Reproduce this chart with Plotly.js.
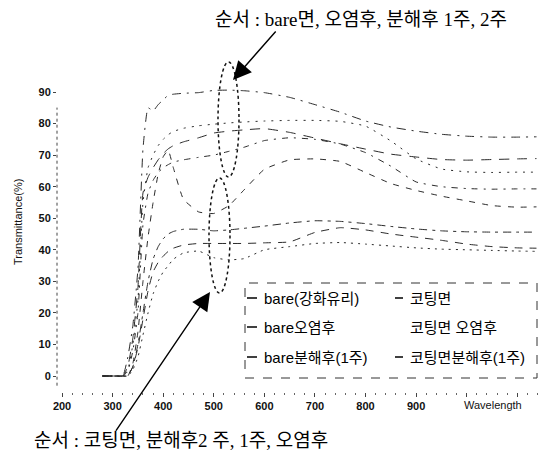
<!DOCTYPE html>
<html>
<head>
<meta charset="utf-8">
<script src="https://cdn.plot.ly/plotly-3.0.1.min.js"></script>
<style>html,body{margin:0;padding:0;background:#fff;}#chart{width:541px;height:464px;}</style>
</head>
<body>
<div id="chart"></div>
<script>
// Wavelength grid (nm)
const wavelength = [280, 300, 320, 330, 340, 350, 360, 370, 380, 390, 400, 410, 420, 440, 470, 500, 530, 560, 600, 650, 700, 750, 800, 850, 900, 950, 1000, 1050, 1100, 1138];

// Transmittance (%) series
const bareGlass      = [0,0,0,6,16,34,72,85,84,86,87.5,89,89.3,89.6,89.8,90.5,90.6,90.4,89.8,88.3,86,83.6,80.8,78.9,77.6,76.6,76,75.7,75.7,75.8];
const bareFouled     = [0,0,0,3,12,28,58,63,66,68.5,70.5,72,73,74.2,75.5,77,77.6,78,78.4,77.2,75.4,73.6,71.9,70.3,69.4,68.6,68.4,68.6,68.8,68.9];
const bareDecomp1w   = [0,0,0,2,10,24,55,66,70,73,75,76.5,77.5,78.5,79.3,79.8,80.2,80.5,80.8,81,81,80.7,79.2,74.5,68.8,65.6,64.7,64.5,64.6,64.6];
const bareDecomp2w   = [0,0,0,1.5,8,20,48,58,62,64.5,66,67,67.8,68.5,69.3,70,71.2,72.5,74.6,75.5,75,73.5,70.8,66.5,61.5,60,59.4,59.2,59.3,59.3];
const coated         = [0,0,0,0,4,14,30,44,55,64,69.5,71.5,66,56,52,51.5,54,59,65.5,68.5,68.8,68,64.5,61,58.8,57,55.5,54,53.5,53.6];
const coatedFouled   = [0,0,0,0,2,6,13,20,26,30,33,35,37,39,39.6,37.5,36.8,37.2,40,41,42,42.3,41.8,41.2,40.6,40.2,40,39.8,39.6,39.5];
const coatedDecomp1w = [0,0,0,0,3,9,18,27,33,36,38,39.5,40.5,41.5,42,42,42,42,42.2,42.5,45.5,47,46.3,45,44,43,41.8,41,40.6,40.5];
const coatedDecomp2w = [0,0,0,0,3,10,20,30,37,41,43.5,45,45.8,46.5,46.5,46,46.3,46.8,47.5,48.5,49.2,49,48.3,47.4,46.6,46,45.7,45.6,45.6,45.6];

// Legend names (2 columns x 3 rows)
const legendCol1 = ['bare(강화유리)', 'bare오염후', 'bare분해후(1주)'];
const legendCol2 = ['코팅면', '코팅면 오염후', '코팅면분해후(1주)'];

// Tick labels
const xTickVals = [200, 300, 400, 500, 600, 700, 800, 900, 1000, 1100];
const xTickText = ['200', '300', '400', '500', '600', '700', '800', '900', '', ''];
const yTickVals = [0, 10, 20, 30, 40, 50, 60, 70, 80, 90];

const series = [
  {name: 'bare(강화유리)', y: bareGlass, dash: '9px,6px,2px,6px'},
  {name: 'bare오염후', y: bareFouled, dash: '10px,8px'},
  {name: 'bare분해후(1주)', y: bareDecomp1w, dash: '2px,6px'},
  {name: 'bare분해후(2주)', y: bareDecomp2w, dash: '6px,6px,2px,6px'},
  {name: '코팅면', y: coated, dash: '6px,7px'},
  {name: '코팅면 오염후', y: coatedFouled, dash: '2px,5px'},
  {name: '코팅면분해후(1주)', y: coatedDecomp1w, dash: '8px,7px'},
  {name: '코팅면분해후(2주)', y: coatedDecomp2w, dash: '3px,5px,8px,5px'}
];

const traces = series.map(s => ({
  type: 'scatter', mode: 'lines', x: wavelength, y: s.y, name: s.name,
  line: {color: '#2a2a2a', width: 1, dash: s.dash, shape: 'spline', smoothing: 0.4},
  showlegend: false, hoverinfo: 'x+y+name'
}));

// pixel -> paper helpers (plot area: l=57, r=538, t=76, b=392)
const PX = px => (px - 57) / 481;
const PY = py => (392 - py) / 316;

const kfont = 'Liberation Serif, Noto Sans CJK KR, sans-serif';
const lfont = 'Liberation Sans, Noto Sans CJK KR, sans-serif';

const annotations = [
  {xref: 'paper', yref: 'paper', x: PX(361), y: PY(20), xanchor: 'center', yanchor: 'middle',
   text: '순서 : bare면, 오염후, 분해후 1주, 2주',
   showarrow: false, font: {family: kfont, size: 19, color: '#000'}},
  {xref: 'paper', yref: 'paper', x: PX(181), y: PY(440), xanchor: 'center', yanchor: 'middle',
   text: '순서 : 코팅면, 분해후2 주, 1주, 오염후',
   showarrow: false, font: {family: kfont, size: 19, color: '#000'}},
  {xref: 'x', yref: 'y', x: 538, y: 93.8, ax: 44, ay: -50, text: '', showarrow: true,
   arrowhead: 2, arrowsize: 2.6, arrowwidth: 1.4, arrowcolor: '#000'},
  {xref: 'x', yref: 'y', x: 492.5, y: 26.6, ax: -95, ay: 140, text: '', showarrow: true,
   arrowhead: 2, arrowsize: 2.6, arrowwidth: 1.4, arrowcolor: '#000'},
  {xref: 'paper', yref: 'paper', x: PX(18), y: PY(222), xanchor: 'center', yanchor: 'middle',
   text: 'Transmittance(%)', textangle: -90,
   showarrow: false, font: {family: lfont, size: 11, color: '#111'}},
  {xref: 'paper', yref: 'paper', x: PX(462), y: PY(405), xanchor: 'left', yanchor: 'middle', text: 'Wavelength',
   showarrow: false, font: {family: lfont, size: 11, color: '#111'}}
];

const rowY = [298, 327, 357];
const shapes = [
  {type: 'circle', xref: 'paper', yref: 'paper', x0: PX(218), x1: PX(239), y0: PY(177), y1: PY(62),
   line: {color: '#111', width: 1.5, dash: 'dot'}},
  {type: 'circle', xref: 'paper', yref: 'paper', x0: PX(209), x1: PX(230), y0: PY(293), y1: PY(178),
   line: {color: '#111', width: 1.5, dash: 'dot'}},
  {type: 'rect', xref: 'paper', yref: 'paper', x0: PX(245), x1: PX(537), y0: PY(378), y1: PY(283),
   line: {color: '#333', width: 1, dash: 'dash'}},
  {type: 'line', xref: 'paper', yref: 'paper', x0: 0, x1: 0, y0: 0.02, y1: 0.9,
   line: {color: '#444', width: 1, dash: 'dot'}}
];

legendCol1.forEach((t, i) => {
  annotations.push({xref: 'paper', yref: 'paper', x: PX(262), y: PY(rowY[i]), xanchor: 'left', yanchor: 'middle', text: t,
    showarrow: false, font: {family: lfont, size: 15, color: '#000'}});
  shapes.push({type: 'line', xref: 'paper', yref: 'paper', x0: PX(247), x1: PX(257), y0: PY(rowY[i]), y1: PY(rowY[i]),
    line: {color: '#000', width: 1.5}});
});
legendCol2.forEach((t, i) => {
  annotations.push({xref: 'paper', yref: 'paper', x: PX(408), y: PY(rowY[i]), xanchor: 'left', yanchor: 'middle', text: t,
    showarrow: false, font: {family: lfont, size: 15, color: '#000'}});
  if (i !== 1) {
    shapes.push({type: 'line', xref: 'paper', yref: 'paper', x0: PX(395), x1: PX(403), y0: PY(rowY[i]), y1: PY(rowY[i]),
      line: {color: '#000', width: 1.5}});
  }
});

const layout = {
  width: 541, height: 464,
  margin: {l: 57, r: 3, t: 76, b: 72, pad: 0},
  paper_bgcolor: '#fff', plot_bgcolor: '#fff',
  showlegend: false,
  xaxis: {
    range: [190, 1141], tickvals: xTickVals, ticktext: xTickText,
    ticks: 'outside', ticklen: 4, tickcolor: '#444', tickwidth: 1,
    minor: {dtick: 20, tick0: 0, ticks: 'outside', ticklen: 2, tickcolor: '#666'},
    showline: false, showgrid: false, zeroline: false,
    tickfont: {family: lfont, size: 11, color: '#111', weight: 'bold'}
  },
  yaxis: {
    range: [-5.07, 95.07], tickvals: yTickVals,
    ticks: 'outside', ticklen: 3, tickcolor: '#444',
    showline: false, showgrid: false, zeroline: false,
    tickfont: {family: lfont, size: 11, color: '#111', weight: 'bold'}
  },
  annotations: annotations,
  shapes: shapes
};

Plotly.newPlot('chart', traces, layout, {displayModeBar: false, staticPlot: true});
</script>
</body>
</html>
